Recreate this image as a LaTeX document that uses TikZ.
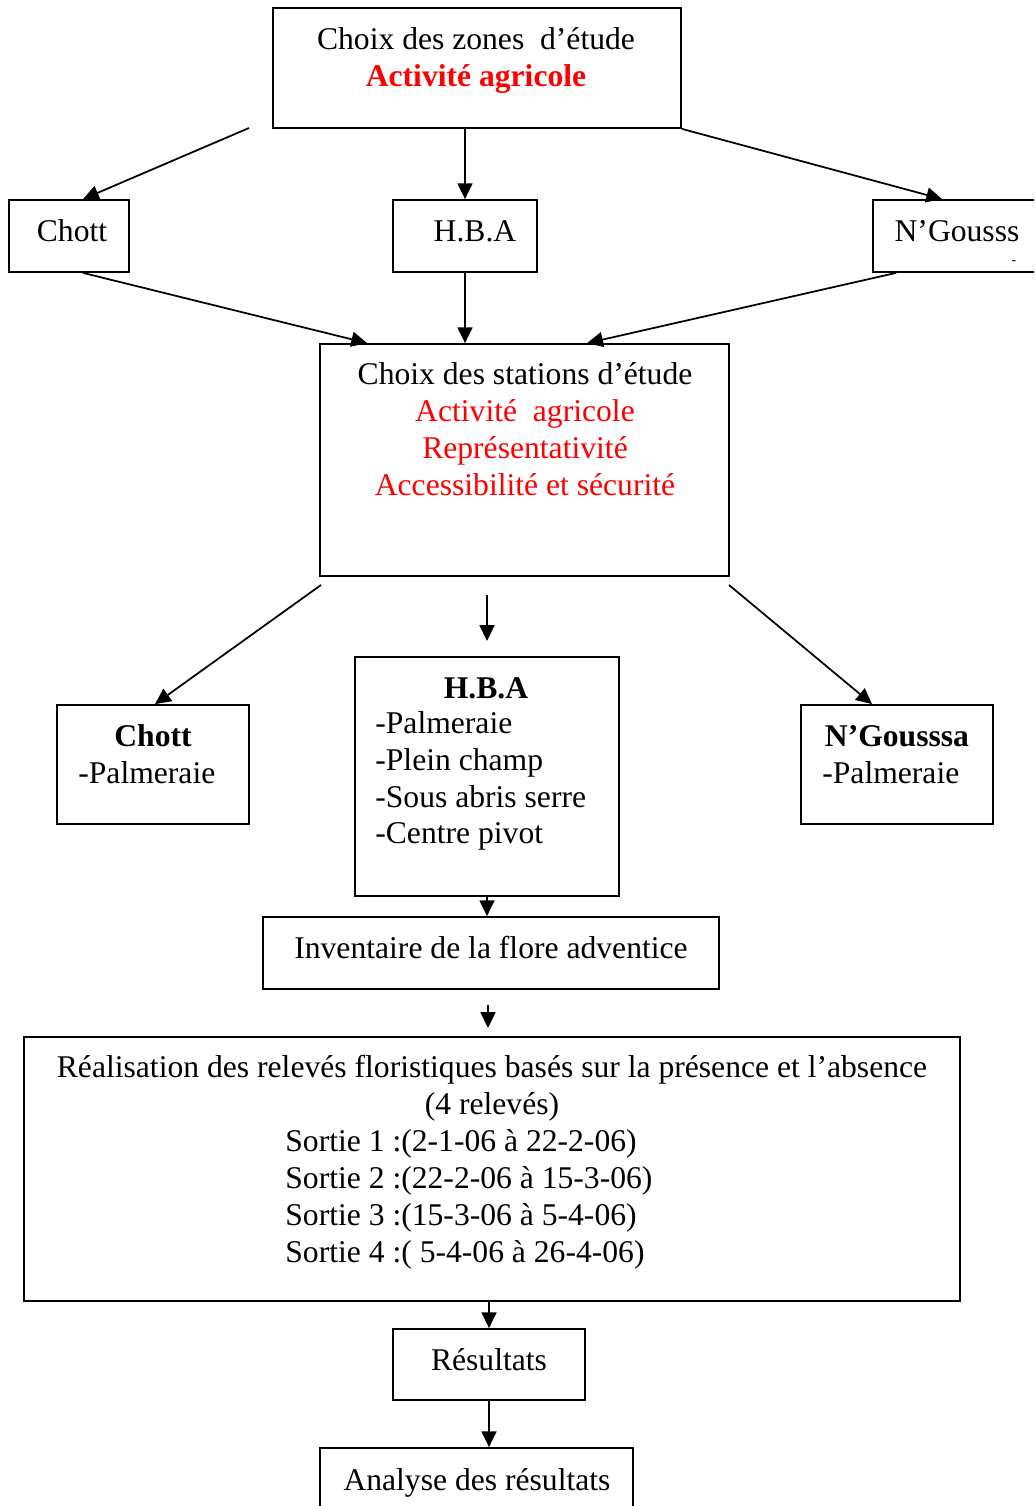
\documentclass[tikz,border=0pt]{standalone}
\usepackage{fontspec}
\setmainfont{Liberation Serif}
\usetikzlibrary{arrows.meta,fit,calc}

\tikzset{
	frame/.style={draw, line width=1pt, inner sep=0pt},
	txt/.style={font=\fontsize{18}{21}\selectfont, inner sep=0pt},
	boldtxt/.style={txt, font=\fontsize{18}{21}\selectfont\bfseries},
	link/.style={line width=1pt, -{Triangle[length=9pt,width=8.5pt]}}
}

\begin{document}
\begin{tikzpicture}[x=0.02cm, y=-0.02cm]
	
	\clip (0,0) rectangle (1034,1506);
	
	% Boxes
	\node[frame, fit={(273,8) (681,128)}] (zones) {};
	\node[frame, fit={(9,200) (129,272)}] (chott) {};
	\node[frame, fit={(393,200) (537,272)}] (hba) {};
	\node[frame, fit={(873,200) (1045,272)}] (ngouss) {};
	\node[frame, fit={(320,344) (729,576)}] (stations) {};
	\node[frame, fit={(57,705) (249,824)}] (chott2) {};
	\node[frame, fit={(355,657) (619,896)}] (hba2) {};
	\node[frame, fit={(801,705) (993,824)}] (ngousssa) {};
	\node[frame, fit={(263,917) (719,989)}] (inv) {};
	\node[frame, fit={(24,1037) (960,1301)}] (real) {};
	\node[frame, fit={(393,1329) (585,1400)}] (res) {};
	\node[frame, fit={(320,1448) (633,1530)}] (ana) {};
	
	% Texts
	\node[txt, anchor=north, align=center] (zonestxt) at (476,27) {Choix des zones \ d’étude\\{\color{red}\bfseries Activité agricole}};
	\node[txt, anchor=base] (chotttxt) at (72,242) {Chott};
	\node[txt, anchor=base] (hbatxt) at (475,242) {H.B.A};
	\node[txt, anchor=base] (ngousstxt) at (957,242) {N’Gousss};
	\node[inner sep=0pt, font=\fontsize{8}{9}\selectfont, anchor=base] (dash) at (1014,265) {-};
	\node[txt, anchor=north, align=center] (stationstxt) at (525,362) {Choix des stations d’étude\\\textcolor{red}{Activité \ agricole}\\\textcolor{red}{Représentativité}\\\textcolor{red}{Accessibilité et sécurité}};
	
	\node[boldtxt, anchor=base] (chott2title) at (153,746) {Chott};
	\node[txt, anchor=base west] (chott2txt) at (78,783) {-Palmeraie};
	\node[boldtxt, anchor=base] (hba2title) at (486,698) {H.B.A};
	\node[txt, anchor=north west, align=left] (hba2txt) at (375,711) {-Palmeraie\\-Plein champ\\-Sous abris serre\\-Centre pivot};
	\node[boldtxt, anchor=base] (ngousssatitle) at (897,746) {N’Gousssa};
	\node[txt, anchor=base west] (ngousssatxt) at (822,783) {-Palmeraie};
	
	\node[txt, anchor=base] (invtxt) at (491,958) {Inventaire de la flore adventice};
	\node[txt, anchor=north, align=center] (realtxt) at (492,1055) {Réalisation des relevés floristiques basés sur la présence et l’absence\\(4 relevés)};
	\node[txt, anchor=north west, align=left] (sortietxt) at (285,1129) {Sortie 1 :(2-1-06 à 22-2-06)\\Sortie 2 :(22-2-06 à 15-3-06)\\Sortie 3 :(15-3-06 à 5-4-06)\\Sortie 4 :( 5-4-06 à 26-4-06)};
	\node[txt, anchor=base] (restxt) at (489,1370) {Résultats};
	\node[txt, anchor=base] (anatxt) at (477,1490) {Analyse des résultats};
	
	% Arrows
	\coordinate (s1) at (249,128);
	\draw[link] (s1) -- ($(chott.north)+(14,0)$);
	\draw[link] (hba.north |- zones.south) -- (hba.north);
	\draw[link] (zones.south east) -- ($(ngouss.north west)+(70,0)$);
	\draw[link] ($(chott.south)+(14,0)$) -- ($(stations.north west)+(48,0)$);
	\draw[link] (hba.south) -- (hba.south |- stations.north);
	\draw[link] ($(ngouss.south west)+(24,0)$) -- ($(stations.north west)+(268,0)$);
	
	\coordinate (s2) at (321,585);
	\draw[link] (s2) -- ($(chott2.north)+(2,0)$);
	\coordinate (s3) at (487,595);
	\coordinate (s4) at (487,641);
	\draw[link] (s3) -- (s4);
	\coordinate (s5) at (729,585);
	\draw[link] (s5) -- ($(ngousssa.north)+(-25,0)$);
	
	\draw[link] (hba2.south) -- (hba2.south |- inv.north);
	\coordinate (s6) at (488,1005);
	\coordinate (s7) at (488,1028);
	\draw[link] (s6) -- (s7);
	\draw[link] (res.north |- real.south) -- (res.north);
	\draw[link] (res.south) -- (res.south |- ana.north);
	
\end{tikzpicture}
\end{document}
